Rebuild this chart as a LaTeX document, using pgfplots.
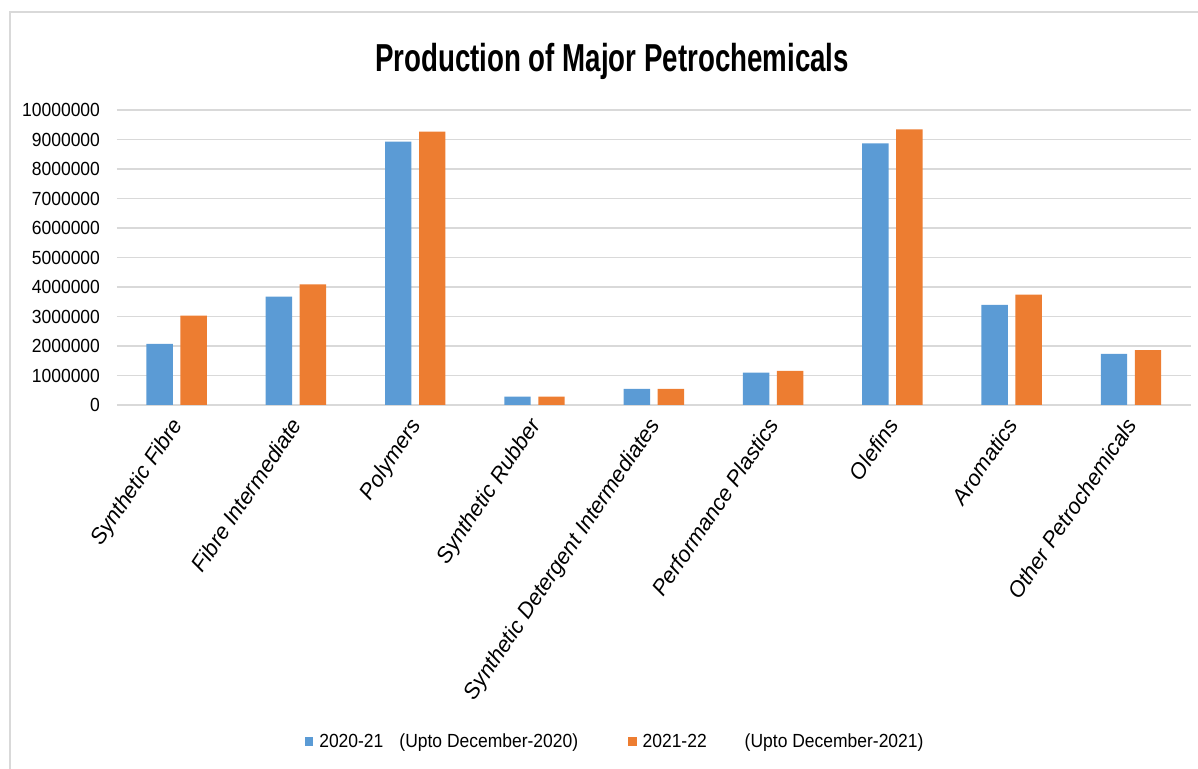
\documentclass[border=0pt]{standalone}
\usepackage{pgfplots}
\pgfplotsset{compat=1.18}
\usepackage{fontspec}
\setmainfont{Liberation Sans}
\newfontfamily\narrowfont{Liberation Sans}[FakeStretch=0.92]
\newfontfamily\titlefont{Liberation Sans}[FakeStretch=0.71]
\definecolor{cblue}{HTML}{5B9BD5}
\definecolor{corange}{HTML}{ED7D31}
\definecolor{cgrid}{HTML}{D9D9D9}
\begin{document}
\begin{tikzpicture}
\useasboundingbox (-58.5pt,-182pt) rectangle (540.5pt,202.5pt);
\draw[cgrid, line width=1pt] (-53.5pt,-200pt) -- (-53.5pt,196.5pt) -- (560pt,196.5pt);
\node[font=\titlefont\bfseries\fontsize{19.5}{22}\selectfont] at (247.5pt,172pt) {Production of Major Petrochemicals};
\begin{axis}[
  at={(0pt,0pt)}, anchor=south west,
  scale only axis, width=536.8pt, height=147.5pt,
  ybar=3.8pt, bar width=13.2pt,
  xmin=-0.5, xmax=8.5, ymin=0, ymax=10000000,
  xtick=data,
  xticklabels={Synthetic Fibre, Fibre Intermediate, Polymers, Synthetic Rubber, Synthetic Detergent Intermediates, Performance Plastics, Olefins, Aromatics, Other Petrochemicals},
  x tick label style={font=\itshape\fontsize{11}{13}\selectfont, xshift=-3.5pt, yshift=-4pt, rotate=56, anchor=north east, inner sep=1pt},
  ytick={0,1000000,...,10000000},
  scaled y ticks=false,
  y tick label style={font=\narrowfont\fontsize{9.5}{11}\selectfont, /pgf/number format/fixed, /pgf/number format/1000 sep={}, /pgf/number format/assume math mode=true},
  yticklabel style={xshift=-5pt},
  axis line style={draw=none},
  major tick length=0pt,
  ymajorgrids, grid style={cgrid, line width=0.9pt},
  legend style={at={(0.465,-1.142)}, anchor=center, draw=none, legend columns=2, font=\narrowfont\fontsize{9.5}{11}\selectfont, /tikz/every even column/.append style={column sep=23pt}, /tikz/every odd column/.append style={column sep=1pt}},
  legend image code/.code={\fill[#1] (0pt,-2.3pt) rectangle (4.2pt,2.3pt);},
]
\addplot[fill=cblue, draw=none] coordinates {(0,2070000) (1,3670000) (2,8930000) (3,280000) (4,550000) (5,1100000) (6,8870000) (7,3390000) (8,1730000)};
\addplot[fill=corange, draw=none] coordinates {(0,3030000) (1,4090000) (2,9270000) (3,280000) (4,550000) (5,1160000) (6,9340000) (7,3740000) (8,1860000)};
\legend{2020-21\hspace{8pt}(Upto December-2020), 2021-22\hspace{19pt}(Upto December-2021)}
\end{axis}
\end{tikzpicture}
\end{document}
